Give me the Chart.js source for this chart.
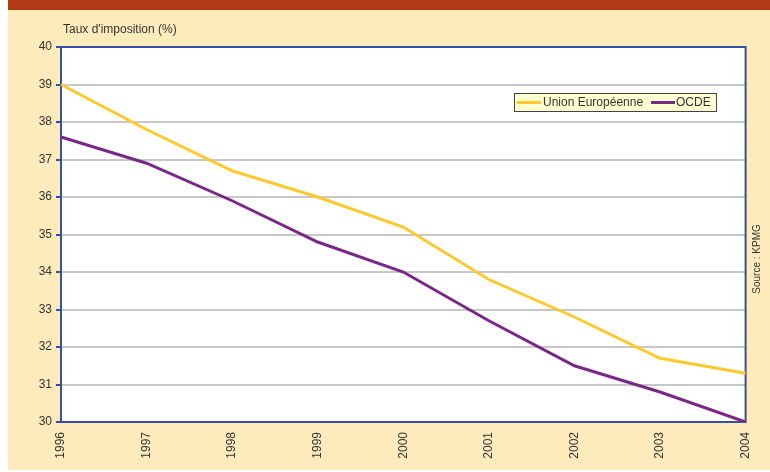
<!DOCTYPE html>
<html>
<head>
<meta charset="utf-8">
<script src="https://cdn.jsdelivr.net/npm/chart.js@4/dist/chart.umd.min.js"></script>
<style>
html,body{margin:0;padding:0;background:#fff;}
#wrap{position:relative;width:770px;height:472px;}
</style>
</head>
<body>
<div id="wrap"><canvas id="c" width="770" height="472"></canvas></div>
<script>
const years = ['1996','1997','1998','1999','2000','2001','2002','2003','2004'];
const unionEuropeenne = [39.0, 37.8, 36.7, 36.0, 35.2, 33.8, 32.8, 31.7, 31.3];
const ocde = [37.6, 36.9, 35.9, 34.8, 34.0, 32.7, 31.5, 30.8, 30.0];
const seriesNames = ['Union Européenne', 'OCDE'];
const yAxisTitle = "Taux d'imposition (%)";
const sourceText = 'Source : KPMG';

const FONT = '"Liberation Sans", Arial, sans-serif';
const BLUE = '#3350A3';
const YELLOW = '#FFC92E';
const PURPLE = '#7A2888';
const TEXT = '#333333';

const decor = {
  id: 'decor',
  beforeDraw(chart) {
    const ctx = chart.ctx;
    ctx.save();
    ctx.fillStyle = '#ffffff';
    ctx.fillRect(0, 0, 770, 472);
    ctx.fillStyle = '#FEEBBC';
    ctx.fillRect(8, 10, 762, 460);
    ctx.fillStyle = '#B13A16';
    ctx.fillRect(8, 0, 762, 10);
    const a = chart.chartArea;
    ctx.fillStyle = '#ffffff';
    ctx.fillRect(a.left, a.top, a.right - a.left, a.bottom - a.top);
    // y axis title
    ctx.fillStyle = TEXT;
    ctx.font = '12px ' + FONT;
    ctx.textAlign = 'left';
    ctx.textBaseline = 'middle';
    ctx.fillText(yAxisTitle, 63, 30);
    // source
    ctx.font = '10px ' + FONT;
    ctx.translate(757, 259);
    ctx.rotate(-Math.PI / 2);
    ctx.textAlign = 'center';
    ctx.textBaseline = 'middle';
    ctx.fillText(sourceText, 0, 0);
    ctx.restore();
  },
  beforeDatasetsDraw(chart) {
    const ctx = chart.ctx;
    const a = chart.chartArea;
    ctx.save();
    ctx.strokeStyle = BLUE;
    ctx.lineWidth = 2;
    ctx.strokeRect(a.left, a.top, a.right - a.left, a.bottom - a.top);
    ctx.restore();
  },
  afterDraw(chart) {
    const ctx = chart.ctx;
    ctx.save();
    // legend box
    const x0 = 514, y0 = 93, w = 203, h = 19;
    ctx.fillStyle = '#FFFFD2';
    ctx.fillRect(x0, y0, w, h);
    ctx.strokeStyle = '#444444';
    ctx.lineWidth = 1;
    ctx.strokeRect(x0 + 0.5, y0 + 0.5, w - 1, h - 1);
    const cy = y0 + h / 2;
    ctx.lineWidth = 3;
    ctx.strokeStyle = YELLOW;
    ctx.beginPath(); ctx.moveTo(517, cy); ctx.lineTo(541, cy); ctx.stroke();
    ctx.strokeStyle = PURPLE;
    ctx.beginPath(); ctx.moveTo(651, cy); ctx.lineTo(675, cy); ctx.stroke();
    ctx.fillStyle = TEXT;
    ctx.font = '12px ' + FONT;
    ctx.textAlign = 'left';
    ctx.textBaseline = 'middle';
    ctx.fillText(seriesNames[0], 543, cy + 0.5);
    ctx.fillText(seriesNames[1], 676, cy + 0.5);
    ctx.restore();
  }
};

new Chart(document.getElementById('c'), {
  type: 'line',
  data: {
    labels: years,
    datasets: [
      { label: seriesNames[0], data: unionEuropeenne, borderColor: YELLOW, borderWidth: 3, pointRadius: 0, tension: 0, fill: false },
      { label: seriesNames[1], data: ocde, borderColor: PURPLE, borderWidth: 3, pointRadius: 0, tension: 0, fill: false }
    ]
  },
  options: {
    responsive: false,
    animation: false,
    events: [],
    layout: { padding: { left: 0, top: 47, right: 22, bottom: 0 } },
    plugins: { legend: { display: false }, tooltip: { enabled: false } },
    scales: {
      x: {
        offset: false,
        grid: { display: false, drawTicks: false },
        border: { display: false },
        ticks: { color: TEXT, font: { size: 12, family: FONT }, maxRotation: 90, minRotation: 90, autoSkip: false, padding: 10 },
        afterFit(s) { s.height = 50; }
      },
      y: {
        min: 30, max: 40,
        grid: { color: '#C8C8C8', lineWidth: 2, tickColor: BLUE, tickLength: 5, drawTicks: true },
        border: { display: true, color: BLUE, width: 2 },
        ticks: { stepSize: 1, color: TEXT, font: { size: 12, family: FONT }, padding: 4 },
        afterFit(s) { s.width = 61; }
      }
    }
  },
  plugins: [decor]
});
</script>
</body>
</html>
